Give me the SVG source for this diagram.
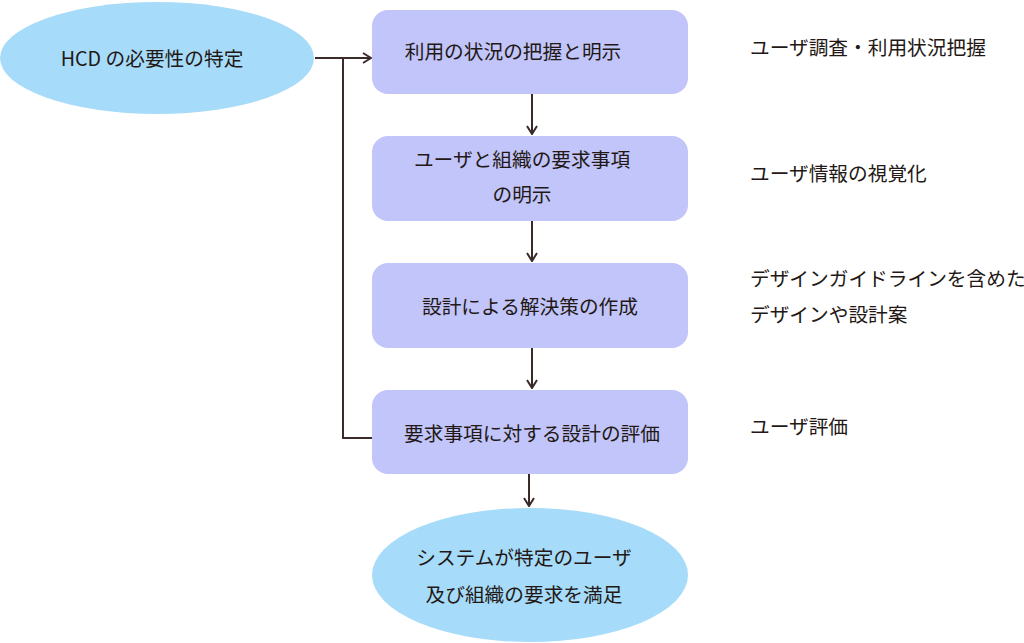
<svg xmlns="http://www.w3.org/2000/svg" width="1024" height="643" viewBox="0 0 1024 643">
<defs>
<style>
text{font-family:"Noto Sans CJK JP","Noto Sans",sans-serif;font-size:19.7px;fill:#231815;dominant-baseline:central}
.c{text-anchor:middle}
.box{fill:#c1c5f9}
.ell{fill:#a6dcf9}
.ln{fill:none;stroke:#3a2a28;stroke-width:2}
</style>
<marker id="ah" viewBox="0 0 10 12" refX="9" refY="6" markerWidth="10" markerHeight="12" markerUnits="userSpaceOnUse" orient="auto">
<polyline points="1,1 9,6 1,11" fill="none" stroke="#3a2a28" stroke-width="2"/>
</marker>
</defs>
<rect width="1024" height="643" fill="#fff"/>
<g id="connectors">
<line class="ln" x1="315" y1="58" x2="371" y2="58" marker-end="url(#ah)"/>
<polyline class="ln" points="372,438 343,438 343,58"/>
<line class="ln" x1="532" y1="94" x2="532" y2="134" marker-end="url(#ah)"/>
<line class="ln" x1="532" y1="221" x2="532" y2="261" marker-end="url(#ah)"/>
<line class="ln" x1="532" y1="348" x2="532" y2="388" marker-end="url(#ah)"/>
<line class="ln" x1="529" y1="474" x2="529" y2="506" marker-end="url(#ah)"/>
</g>
<g id="start">
<ellipse class="ell" cx="157" cy="58" rx="157" ry="56"/>
<text class="c" x="152" y="57">HCD の必要性の特定</text>
</g>
<g id="step1">
<rect class="box" x="372" y="10" width="316" height="84" rx="16"/>
<text class="c" x="513" y="50">利用の状況の把握と明示</text>
</g>
<g id="step2">
<rect class="box" x="372" y="136" width="316" height="85" rx="16"/>
<text class="c" x="522" y="158">ユーザと組織の要求事項</text>
<text class="c" x="522" y="193">の明示</text>
</g>
<g id="step3">
<rect class="box" x="372" y="263" width="316" height="85" rx="16"/>
<text class="c" x="530" y="305">設計による解決策の作成</text>
</g>
<g id="step4">
<rect class="box" x="372" y="390" width="316" height="84" rx="16"/>
<text class="c" x="532" y="432">要求事項に対する設計の評価</text>
</g>
<g id="end">
<ellipse class="ell" cx="530" cy="575" rx="158" ry="67"/>
<text class="c" x="524" y="556">システムが特定のユーザ</text>
<text class="c" x="524" y="593">及び組織の要求を満足</text>
</g>
<g id="notes">
<text x="750" y="46">ユーザ調査・利用状況把握</text>
<text x="750" y="172">ユーザ情報の視覚化</text>
<text x="750" y="277">デザインガイドラインを含めた</text>
<text x="750" y="313">デザインや設計案</text>
<text x="750" y="425">ユーザ評価</text>
</g>
</svg>
